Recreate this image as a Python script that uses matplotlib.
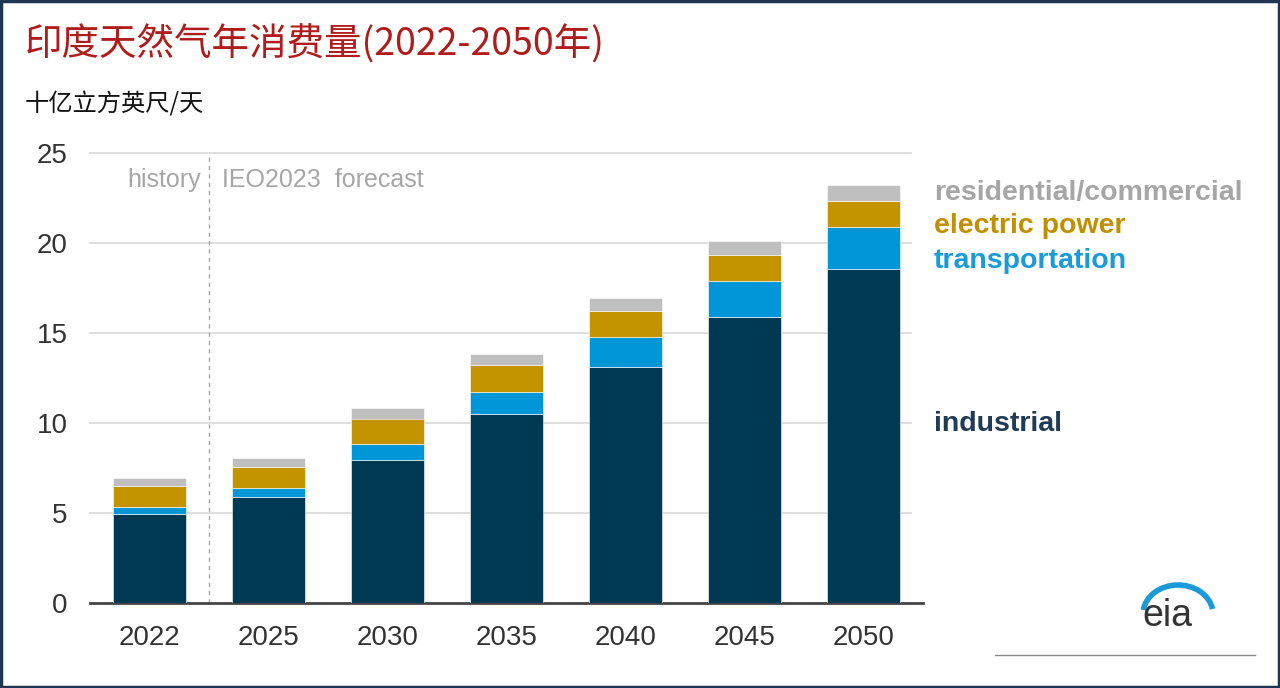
import matplotlib.pyplot as plt
from matplotlib.patches import Rectangle, Arc
import numpy as np

years = ["2022", "2025", "2030", "2035", "2040", "2045", "2050"]
industrial = [4.94, 5.9, 7.94, 10.48, 13.1, 15.9, 18.54]
transportation = [0.41, 0.5, 0.87, 1.22, 1.68, 1.98, 2.33]
electric_power = [1.17, 1.17, 1.44, 1.52, 1.44, 1.44, 1.46]
residential_commercial = [0.44, 0.46, 0.56, 0.59, 0.72, 0.8, 0.89]

series = [
    ("industrial", industrial, "#003953"),
    ("transportation", transportation, "#0096d7"),
    ("electric power", electric_power, "#c39300"),
    ("residential/commercial", residential_commercial, "#bfbfbf"),
]

plt.rcParams['font.family'] = ['Liberation Sans', 'DejaVu Sans']
cjk = ['Noto Sans CJK SC', 'DejaVu Sans']

fig = plt.figure(figsize=(12.8, 6.88), dpi=100)
ax = fig.add_axes([90/1280, 1-603/688, 833/1280, 450/688])

x = np.arange(len(years))
bottom = np.zeros(len(years))
for name, vals, col in series:
    ax.bar(x, vals, bottom=bottom, width=0.62, color=col, edgecolor="white", linewidth=0.4, zorder=3)
    bottom += np.array(vals)

ax.set_xlim(-0.5, 6.5)
ax.set_ylim(0, 25)
ax.set_yticks([0, 5, 10, 15, 20, 25])
ax.set_xticks(x)
ax.set_xticklabels(years)
ax.tick_params(axis="both", length=0, labelsize=20, colors="#333333")
ax.tick_params(axis="x", pad=16)
ax.tick_params(axis="y", pad=16)
for s in ["top", "right", "left"]:
    ax.spines[s].set_visible(False)
ax.spines["bottom"].set_color("#444444")
ax.spines["bottom"].set_linewidth(2)
for yv in [5, 10, 15, 20, 25]:
    ax.plot([-0.5, 6.4], [yv, yv], color="#d9d9d9", linewidth=1.2, zorder=1, clip_on=False)

ax.axvline(0.5, color="#a6a6a6", linestyle=(0, (3, 3)), linewidth=1, zorder=2)
ax.text(0.43, 23.5, "history", ha="right", va="center", fontsize=18, color="#a6a6a6")
ax.text(0.61, 23.5, "IEO2023  forecast", ha="left", va="center", fontsize=18, color="#a6a6a6")

# right-side labels
fig.text(934/1280, 1-193/688, "residential/commercial", fontsize=20.5, fontweight="bold",
         color="#a6a6a6", va="center")
fig.text(934/1280, 1-226/688, "electric power", fontsize=20.5, fontweight="bold",
         color="#c09000", va="center")
fig.text(934/1280, 1-261/688, "transportation", fontsize=20.5, fontweight="bold",
         color="#1a9ad6", va="center")
fig.text(934/1280, 1-424/688, "industrial", fontsize=20.5, fontweight="bold",
         color="#1f3b55", va="center")

fig.text(25/1280, 1-45/688, "印度天然气年消费量(2022-2050年)", family=cjk, fontsize=27,
         color="#b01c1c", va="center")
fig.text(25/1280, 1-105/688, "十亿立方英尺/天", family=cjk, fontsize=17.5,
         color="#111111", va="center")

# eia logo
fig.text(1167/1280, 1-616/688, "eia", fontsize=27, color="#333333",
         ha="center", va="center")
fig.patches.append(Arc((1178/1280, 1-614/688), 70/1280, 58/688, theta1=15, theta2=168,
                       transform=fig.transFigure, color="#1a9ad6", linewidth=4))
fig.add_artist(plt.Line2D([995/1280, 1255/1280], [1-655/688, 1-655/688],
                          transform=fig.transFigure, color="#888888", linewidth=1))

# frame
fig.patches.append(Rectangle((0.001, 0.001), 0.998, 0.997, transform=fig.transFigure,
                             fill=False, edgecolor="#1f3552", linewidth=2.5))

fig.savefig("out.png", dpi=100)
